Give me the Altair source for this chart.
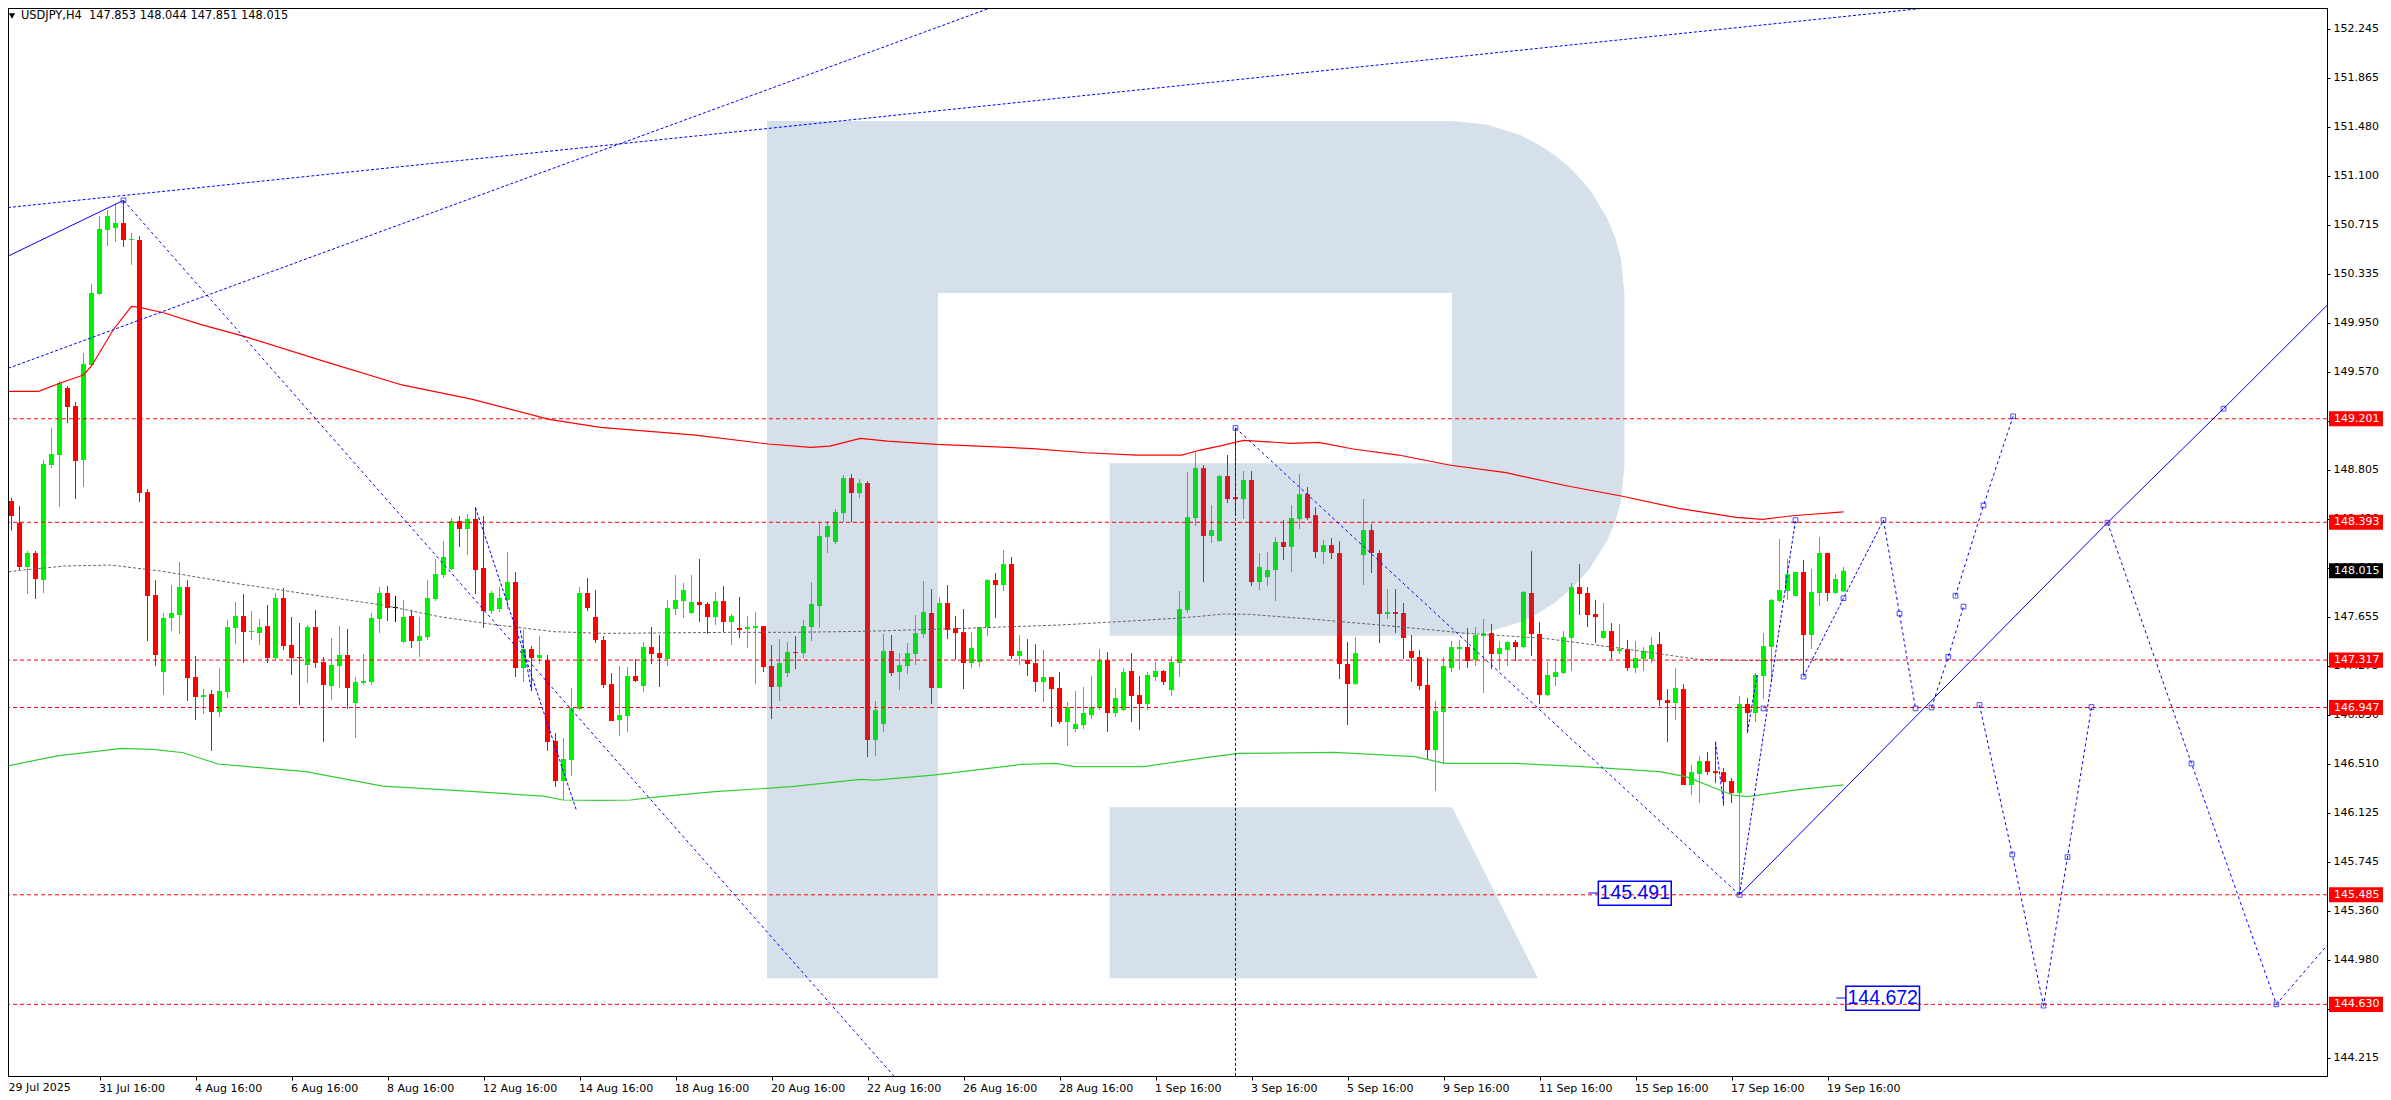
import altair as alt
import pandas as pd

# ---- candle values (USDJPY H4), one entry per bar ----
opens = [
148.700,148.559,148.390,148.044,148.153,147.943,148.840,148.918,149.441,149.301,
148.879,149.621,150.175,150.675,150.690,150.729,150.597,150.597,148.629,147.825,
147.224,147.646,147.669,147.888,147.185,147.029,147.052,146.912,147.068,147.568,
147.661,147.537,147.529,147.583,147.333,147.802,147.435,147.341,147.279,147.575,
147.302,147.115,147.271,147.357,146.982,147.139,147.146,147.638,147.841,147.732,
147.459,147.661,147.466,147.497,147.794,147.981,148.028,148.403,148.341,148.419,
148.036,147.700,147.716,147.786,147.927,147.255,147.404,147.333,147.318,146.686,
146.373,146.537,146.935,147.841,147.654,
147.474,147.130,146.849,146.881,147.193,147.115,147.419,147.372,147.326,147.716,
147.778,147.685,147.771,147.755,147.653,147.778,147.615,147.568,147.560,147.568,
147.583,147.271,147.107,147.216,147.380,147.372,147.575,147.739,148.278,148.239,
148.465,148.738,148.621,148.699,146.693,146.818,147.388,147.224,147.271,147.365,
147.521,147.685,147.099,147.763,147.568,147.536,147.294,147.302,147.575,147.942,
147.903,148.067,147.349,147.318,147.294,147.146,147.185,147.099,146.834,146.779,
146.810,146.888,146.943,147.318,146.904,146.927,147.232,147.044,146.974,147.185,
147.232,147.083,147.294,147.708,148.426,
148.816,148.286,148.246,148.754,148.590,148.574,148.723,147.926,147.965,148.020,
148.239,148.200,148.418,148.613,148.449,148.161,148.215,148.153,147.287,147.130,
148.137,148.332,148.153,147.677,147.692,147.685,147.388,147.341,147.123,146.615,
146.912,147.255,147.403,147.419,147.318,147.505,147.528,147.365,147.396,147.458,
147.419,147.841,147.521,147.044,147.185,147.216,147.490,147.887,147.841,147.677,
147.490,147.544,147.388,147.403,147.255,147.326,147.326,147.442,147.005,146.982,
147.091,146.342,146.428,146.529,146.451,146.443,146.373,
146.280,146.975,146.904,147.193,147.420,147.779,147.857,147.818,148.005,147.513,
147.841,148.153,147.841,147.853]
highs = [
148.801,148.583,148.520,148.169,148.169,148.879,149.129,149.496,149.457,149.332,
149.715,150.253,150.784,150.831,150.883,150.906,150.651,150.628,148.653,147.942,
147.685,147.903,148.083,147.942,147.349,147.092,147.084,147.255,147.630,147.771,
147.833,147.700,147.638,147.747,147.841,147.880,147.654,147.607,147.591,147.708,
147.341,147.490,147.583,147.560,147.185,147.365,147.685,147.888,147.896,147.818,
147.786,147.708,147.654,147.942,148.106,148.247,148.426,148.442,148.458,148.512,
148.442,147.857,147.888,148.161,148.005,147.552,147.427,147.505,147.357,146.748,
146.709,147.099,147.888,147.958,147.864,
147.505,147.216,147.271,147.263,147.326,147.458,147.575,147.513,147.786,147.981,
147.919,147.981,148.106,147.771,147.849,147.895,147.677,147.810,147.661,147.692,
147.583,147.435,147.481,147.458,147.505,147.630,147.926,148.395,148.403,148.496,
148.762,148.769,148.730,148.715,146.998,147.521,147.513,147.372,147.450,147.669,
147.934,147.872,147.810,147.903,147.661,147.716,147.536,147.575,147.950,147.997,
148.176,148.122,147.513,147.481,147.442,147.396,147.185,147.224,146.990,147.076,
147.107,147.193,147.403,147.380,147.099,147.255,147.372,147.193,147.224,147.302,
147.239,147.349,147.856,148.785,148.941,
148.840,148.527,148.762,148.918,149.129,148.793,148.793,148.153,148.161,148.278,
148.410,148.527,148.769,148.668,148.512,148.254,148.270,148.246,147.458,147.497,
148.574,148.379,148.176,147.872,147.872,147.763,147.513,147.396,147.334,146.998,
147.341,147.466,147.474,147.568,147.575,147.638,147.599,147.466,147.466,147.474,
147.856,148.168,147.615,147.302,147.334,147.544,147.919,148.067,147.887,147.786,
147.763,147.606,147.599,147.474,147.466,147.419,147.497,147.536,147.091,147.255,
147.130,146.498,146.568,146.599,146.677,146.475,146.396,
147.037,147.022,147.217,147.529,147.794,148.263,148.107,148.005,148.099,148.029,
148.278,148.153,147.989,148.044]
lows = [
148.343,148.328,148.021,147.833,147.794,147.841,148.817,148.512,149.168,148.575,
148.669,149.613,150.167,150.550,150.581,150.542,150.402,148.551,147.466,147.271,
147.045,147.544,147.521,146.998,146.850,146.896,146.608,146.873,147.021,147.443,
147.295,147.474,147.435,147.295,147.318,147.396,147.201,146.967,147.139,147.255,
146.678,147.006,147.099,146.935,146.709,147.123,147.123,147.529,147.622,147.615,
147.451,147.412,147.341,147.474,147.779,147.958,148.020,148.200,148.137,147.833,
147.568,147.677,147.693,147.716,147.185,147.146,147.076,147.287,146.608,146.327,
146.225,146.412,146.927,147.700,147.451,
147.099,146.842,146.725,146.756,147.146,147.068,147.287,147.107,147.271,147.669,
147.646,147.677,147.615,147.521,147.591,147.536,147.435,147.490,147.412,147.130,
147.224,146.857,146.998,147.185,147.247,147.334,147.466,147.568,148.153,148.223,
148.395,148.395,148.582,146.560,146.568,146.756,147.193,147.083,147.208,147.279,
147.490,146.974,147.099,147.481,147.318,147.091,147.255,147.263,147.505,147.646,
147.856,147.326,147.279,147.193,147.068,146.990,146.795,146.818,146.646,146.756,
146.779,146.857,146.927,146.756,146.873,146.919,146.834,146.771,146.927,147.154,
147.123,147.037,147.185,147.685,148.364,
147.926,148.231,148.246,148.543,148.462,148.418,147.895,147.864,147.895,147.778,
148.098,148.004,148.340,148.410,148.114,148.067,148.106,147.169,146.810,147.123,
147.903,147.997,147.450,147.638,147.528,147.326,147.146,147.083,146.545,146.295,
146.506,147.224,147.239,147.255,147.271,147.060,147.247,147.239,147.271,147.310,
147.412,147.349,146.974,147.037,147.115,147.208,147.232,147.669,147.575,147.450,
147.481,147.326,147.365,147.232,147.216,147.232,147.294,146.958,146.677,146.849,
146.342,146.264,146.201,146.420,146.357,146.178,146.201,
145.484,146.748,146.834,147.014,147.146,147.771,147.787,147.818,147.201,147.404,
147.740,147.779,147.833,147.851]
closes = [
148.554,148.442,148.044,148.153,147.950,148.848,148.926,149.480,149.293,148.872,
149.629,150.183,150.683,150.784,150.729,150.597,150.605,148.622,147.818,147.357,
147.646,147.685,147.888,147.177,147.029,147.045,146.912,147.076,147.575,147.661,
147.537,147.544,147.575,147.333,147.802,147.427,147.333,147.333,147.575,147.295,
147.123,147.279,147.357,147.099,147.146,147.154,147.646,147.841,147.724,147.724,
147.654,147.466,147.505,147.802,147.989,148.122,148.403,148.341,148.419,148.020,
147.700,147.841,147.802,147.927,147.255,147.404,147.333,147.357,146.678,146.373,
146.545,146.943,147.841,147.724,147.474,
147.123,146.842,146.888,147.193,147.154,147.419,147.365,147.334,147.724,147.786,
147.864,147.771,147.747,147.653,147.778,147.615,147.661,147.552,147.575,147.583,
147.263,147.107,147.294,147.380,147.372,147.583,147.755,148.286,148.364,148.473,
148.738,148.621,148.699,146.693,146.927,147.388,147.216,147.279,147.372,147.528,
147.692,147.099,147.763,147.552,147.528,147.294,147.412,147.575,147.942,147.903,
148.067,147.349,147.388,147.287,147.146,147.185,147.091,146.834,146.951,146.818,
146.904,146.951,147.318,146.904,147.021,147.224,147.037,146.974,147.201,147.232,
147.146,147.302,147.716,148.434,148.816,
148.286,148.332,148.754,148.574,148.574,148.723,147.926,148.044,148.020,148.239,
148.200,148.426,148.613,148.426,148.161,148.215,148.153,147.287,147.130,147.372,
148.332,148.153,147.677,147.692,147.677,147.490,147.334,147.115,146.615,146.919,
147.271,147.419,147.419,147.310,147.513,147.528,147.365,147.412,147.458,147.419,
147.849,147.521,147.044,147.201,147.224,147.497,147.887,147.833,147.669,147.653,
147.544,147.388,147.403,147.255,147.334,147.388,147.435,147.005,146.982,147.099,
146.342,146.443,146.529,146.443,146.435,146.365,146.279,
146.975,146.904,147.201,147.427,147.787,147.865,147.989,148.005,147.513,147.849,
148.153,147.841,147.950,148.015]
doji_bars = [49]

# ---- moving averages: (bar, value) readings ----
red_ma_bar = [0,4.4,7,10,11,13.7,16,17,20,24.6,30.2,40.2,49.8,58.5,68.2,74.6,86.5,95.6,100.9,103.3,107.1,110.5,116.7,123.4,128.6,135.3,141.6,147.3,149.6,152.4,155,161,164.4,168.7,174.4,180.7,187.8,195.5,202.2,209.4,216.6,219.9,223.6,230]
red_ma_val = [149.415,149.415,149.478,149.543,149.613,149.894,150.079,150.071,150.029,149.938,149.842,149.647,149.465,149.355,149.197,149.134,149.074,149.004,148.978,148.988,149.048,149.027,149.001,148.983,148.968,148.936,148.918,148.918,148.957,148.994,149.033,149.009,149.017,148.965,148.918,148.840,148.780,148.676,148.598,148.502,148.431,148.416,148.444,148.474]
gray_ma_bar = [0,2.4,7.7,13.4,19.6,28.2,40.2,47.4,54.5,61.7,68.9,75,91.3,98.5,108,120,132,141.6,146.3,149.6,152.4,155.8,163.4,173.5,183,192.6,202.2,211.8,219.4,224.6,230]
gray_ma_val = [148.002,148.020,148.052,148.059,148.013,147.924,147.812,147.747,147.656,147.591,147.539,147.526,147.534,147.534,147.542,147.565,147.591,147.625,147.643,147.659,147.677,147.674,147.638,147.583,147.526,147.487,147.409,147.323,147.313,147.323,147.325]
green_ma_bar = [0,6.7,14.8,18.7,22.5,26.8,30.6,37.8,47.4,56.9,67.5,69.9,74.6,78.4,80.8,88.9,98.5,107.1,109,116.2,127.2,131.5,133.9,142.5,149.6,154.4,166.3,176.4,180.2,188.8,197.4,207,210.3,216.1,218,224.6,230]
green_ma_val = [146.485,146.569,146.628,146.621,146.594,146.506,146.485,146.446,146.334,146.298,146.256,146.225,146.222,146.225,146.243,146.290,146.329,146.386,146.381,146.420,146.503,146.511,146.485,146.485,146.550,146.589,146.597,146.563,146.511,146.511,146.485,146.446,146.407,146.264,146.251,146.308,146.343]

# ---- levels and axis ----
level_values = [149.201,148.393,147.317,146.947,145.485,144.630]
last_price = [148.015]
y_ticks = [152.245,151.865,151.48,151.1,150.715,150.335,149.95,149.57,149.185,148.805,148.42,148.04,147.655,147.275,146.89,146.51,146.125,145.745,145.36,144.98,144.595,144.215]
x_tick_bars = [12*k for k in range(20)]
x_tick_labels = ["","31 Jul 16:00","4 Aug 16:00","6 Aug 16:00","8 Aug 16:00","12 Aug 16:00","14 Aug 16:00","18 Aug 16:00","20 Aug 16:00","22 Aug 16:00","26 Aug 16:00","28 Aug 16:00","1 Sep 16:00","3 Sep 16:00","5 Sep 16:00","9 Sep 16:00","11 Sep 16:00","15 Sep 16:00","17 Sep 16:00","19 Sep 16:00"]
first_date_label = "29 Jul 2025"
header_text = "USDJPY,H4\u00a0\u00a0147.853 148.044 147.851 148.015"

# ---- analysis paths: (bar, price) ----
solid_paths = [
    [(-0.02,150.453),(15,150.906)],
    [(217,145.485),(263,148.39),(277.5,149.28),(290.5,150.09)],
]
bold_dash_paths = [
    [(-0.06,150.846),(246.2,152.446)],
    [(0,149.582),(125,152.446)],
    [(59,148.507),(71.6,146.147)],
    [(154,149.13),(154,144.07)],
    [(217,145.485),(224,148.41)],
    [(225,147.188),(230,147.80),(235,148.41)],
    [(218,146.756),(219.2,147.2)],
    [(214,146.68),(215,146.2)],
    [(64.6,147.55),(66,147.08)],
]
thin_dash_paths = [
    [(15,150.906),(111.3,144.07)],
    [(154,149.13),(217,145.485)],
    [(235,148.41),(237,147.68),(239,146.94)],
    [(241,146.947),(243.1,147.343),(245,147.735)],
    [(244,147.82),(247.5,148.525),(251.2,149.22)],
    [(247,146.967),(251.1,145.80),(255,144.62),(258,145.78),(261,146.951)],
    [(263,148.39),(273.5,146.51),(284.1,144.63),(290.5,145.095)],
]
marker_bar = [15,125,154,217,224,225,220,230,235,237,239,241,243.1,245,244,247.5,251.2,247,251.1,255,258,261,263,277.5,273.5,284.1]
marker_val = [150.906,152.446,149.13,145.485,148.41,147.188,146.94,147.80,148.41,147.68,146.94,146.947,147.343,147.735,147.82,148.525,149.22,146.967,145.80,144.62,145.78,146.951,148.39,149.28,146.51,144.63]
box_labels = ["145.491","144.672"]
box_left = [199.35,230.3]
box_right = [208.47,239.5]
box_top = [145.590,144.771]
box_bottom = [145.403,144.584]
box_tick_from = [198.1,229.1]
box_tick_val = [145.499,144.679]

# ---- R watermark outline in bar / price units ----
logo_rect_x = [95.4375,116.8125,138.28]
logo_rect_x2 = [116.8125,181.0625,181.0625]
logo_rect_top = [151.525,151.525,148.853]
logo_rect_bottom = [144.833,150.183,147.508]
logo_bowl_x = [181.0625,185.35,189.67,191.83,193.98,196.14,198.30,200.45,201.53,202.18,202.61]
logo_bowl_top = [151.525,151.498,151.414,151.345,151.257,151.141,150.988,150.768,150.602,150.450,150.183]
logo_bowl_bot = [147.506,147.532,147.615,147.682,147.769,147.882,148.032,148.248,148.411,148.560,148.822]
logo_leg_x = [138.28,181.0625,191.81]
logo_leg_top = [146.169,146.169,144.833]
logo_leg_bot = [144.833,144.833,144.833]

BULL, BEAR, DOJI = "#00F200", "#FF0000", "#000000"
BLUE = "#0000FF"
FONT = "DejaVu Sans"

PLOT_W, PLOT_H = 2324, 1074
xs = alt.Scale(domain=[-0.0625, 290.4375], nice=False, zero=False, padding=0)
ys = alt.Scale(domain=[144.0706, 152.4545], nice=False, zero=False, padding=0)

x_axis = alt.Axis(
    title=None, grid=False, values=x_tick_bars,
    labelExpr="[" + ",".join(f"'{t}'" for t in x_tick_labels) + "][round(datum.value/12)]",
    labelAlign="left", labelBaseline="middle", labelPadding=8, labelOverlap=False,
    labelFlush=False, labelBound=False, labelFont=FONT, labelFontSize=11, labelColor="#000",
    labelOffset=-1, tickColor="#000", tickSize=4, domainColor="#000", domainWidth=1)
y_axis = alt.Axis(
    title=None, grid=False, orient="right", values=y_ticks, format=".3f",
    labelPadding=3, labelOverlap=False, labelFlush=False, labelBound=False,
    labelFont=FONT, labelFontSize=11, labelColor="#000",
    tickColor="#000", tickSize=3, domainColor="#000", domainWidth=1)

def X(f="i"): return alt.X(f"{f}:Q", scale=xs, axis=x_axis)
def Y(f="p"): return alt.Y(f"{f}:Q", scale=ys, axis=y_axis)

def candle_color(i):
    if i in doji_bars:
        return DOJI
    return BULL if closes[i] >= opens[i] else BEAR

n = len(opens)
assert n == len(highs) == len(lows) == len(closes)
bars = pd.DataFrame({
    "i": range(n), "open": opens, "high": highs, "low": lows, "close": closes,
    "color": [candle_color(i) for i in range(n)],
})
col = alt.Color("color:N", scale=None)

wicks = alt.Chart(bars).mark_rule(strokeWidth=1, clip=True).encode(x=X(), y=Y("high"), y2="low:Q", color=col)
bodies = alt.Chart(bars).mark_bar(width=5, clip=True, orient="vertical").encode(x=X(), y=Y("open"), y2="close:Q", color=col)

LOGO = dict(color="#4072A4", opacity=0.22)
logo_rects = alt.Chart(pd.DataFrame({"i": logo_rect_x, "i2": logo_rect_x2, "p": logo_rect_top, "p2": logo_rect_bottom})).mark_rect(**LOGO).encode(x=X(), x2="i2:Q", y=Y(), y2="p2:Q")
logo_bowl = alt.Chart(pd.DataFrame({"i": logo_bowl_x, "p": logo_bowl_top, "p2": logo_bowl_bot})).mark_area(**LOGO).encode(x=X(), y=Y(), y2="p2:Q")
logo_leg = alt.Chart(pd.DataFrame({"i": logo_leg_x, "p": logo_leg_top, "p2": logo_leg_bot})).mark_area(**LOGO).encode(x=X(), y=Y(), y2="p2:Q")

def ma(xv, yv, **kw):
    return alt.Chart(pd.DataFrame({"i": xv, "p": yv})).mark_line(clip=True, **kw).encode(x=X(), y=Y())
red_ma = ma(red_ma_bar, red_ma_val, color="#FF0000", strokeWidth=1.2)
gray_ma = ma(gray_ma_bar, gray_ma_val, color="#666666", strokeWidth=1, strokeDash=[3, 2])
green_ma = ma(green_ma_bar, green_ma_val, color="#32CD32", strokeWidth=1.2)

levels = alt.Chart(pd.DataFrame({"p": level_values})).mark_rule(color="#FF0000", strokeWidth=1, strokeDash=[4, 3]).encode(y=Y())

def paths_df(paths):
    rows = []
    for k, path in enumerate(paths):
        for s, (i, p) in enumerate(path):
            rows.append({"path": k, "seq": s, "i": i, "p": p})
    return pd.DataFrame(rows)

def path_layer(paths, **kw):
    return alt.Chart(paths_df(paths)).mark_line(color=BLUE, clip=True, **kw).encode(
        x=X(), y=Y(), detail="path:N", order="seq:Q")

solid = path_layer(solid_paths, strokeWidth=1)
bold_dash = path_layer(bold_dash_paths, strokeWidth=1, strokeDash=[3, 2])
thin_dash = path_layer(thin_dash_paths, strokeWidth=1, strokeDash=[3, 3])

markers = alt.Chart(pd.DataFrame({"i": marker_bar, "p": marker_val})).mark_point(
    shape="square", size=22, filled=False, color=BLUE, strokeWidth=1, clip=True).encode(x=X(), y=Y())

boxes_df = pd.DataFrame({"i": box_left, "i2": box_right, "p": box_top, "p2": box_bottom,
                         "t": box_labels, "from": box_tick_from, "tick": box_tick_val})
boxes_df["mid"] = (boxes_df["i"] + boxes_df["i2"]) / 2
boxes_df["pm"] = (boxes_df["p"] + boxes_df["p2"]) / 2
box_rects = alt.Chart(boxes_df).mark_rect(filled=False, stroke=BLUE, strokeWidth=1.5).encode(x=X(), x2="i2:Q", y=Y(), y2="p2:Q")
box_text = alt.Chart(boxes_df).mark_text(font="Liberation Sans", fontSize=19.5, color=BLUE, align="center", baseline="middle").encode(x=X("mid"), y=Y("pm"), text="t:N")
box_ticks = alt.Chart(boxes_df).mark_rule(color=BLUE, strokeWidth=1).encode(x=X("from"), x2="i:Q", y=Y("tick"))

def price_tags(values, bg):
    df = pd.DataFrame({"p": values, "t": [f"{v:.3f}" for v in values]})
    df["a"] = df["p"] + 0.059
    df["b"] = df["p"] - 0.059
    r = alt.Chart(df).mark_rect(color=bg).encode(x=alt.value(PLOT_W + 2), x2=alt.value(PLOT_W + 58), y=Y("a"), y2="b:Q")
    t = alt.Chart(df).mark_text(font=FONT, fontSize=11, color="#FFF", align="left", baseline="middle").encode(
        x=alt.value(PLOT_W + 7), y=Y("p"), text="t:N")
    return r + t

tags = price_tags(level_values, "#FF0000") + price_tags(last_price, "#000000")

header = alt.Chart(pd.DataFrame({"t": [header_text]})).mark_text(
    font=FONT, fontSize=11.4, color="#000", align="left", baseline="middle").encode(
    x=alt.value(18), y=alt.value(14), text="t:N")
triangle = alt.Chart(pd.DataFrame({"t": [0]})).mark_point(
    shape="triangle-down", size=40, filled=True, color="#000", opacity=1).encode(
    x=alt.value(9), y=alt.value(14))
first_label = alt.Chart(pd.DataFrame({"t": [first_date_label]})).mark_text(
    font=FONT, fontSize=11, color="#000", align="left", baseline="middle").encode(
    x=alt.value(5.5), y=alt.value(PLOT_H + 12), text="t:N")

# left and top frame edges, drawn at the first visible pixel of the page
left_edge = alt.Chart(pd.DataFrame({"t": [0]})).mark_rule(color="#000", strokeWidth=1).encode(
    x=alt.value(5.5), y=alt.value(6), y2=alt.value(PLOT_H))
top_edge = alt.Chart(pd.DataFrame({"t": [0]})).mark_rule(color="#000", strokeWidth=1).encode(
    x=alt.value(5), x2=alt.value(PLOT_W), y=alt.value(6.5))

chart = alt.layer(
    wicks, bodies, logo_rects, logo_bowl, logo_leg, gray_ma, red_ma, green_ma,
    levels, solid, bold_dash, thin_dash, markers, box_rects, box_text, box_ticks,
    tags, left_edge, top_edge, header, triangle, first_label,
).properties(
    width=PLOT_W, height=PLOT_H,
    padding={"left": -5, "top": -6, "right": 56, "bottom": 24},
    autosize=alt.AutoSizeParams(type="none"),
    background="#FFFFFF",
).configure_view(stroke="#000", strokeWidth=1)

chart.save("out.html", embed_options={"renderer": "svg", "actions": False})
